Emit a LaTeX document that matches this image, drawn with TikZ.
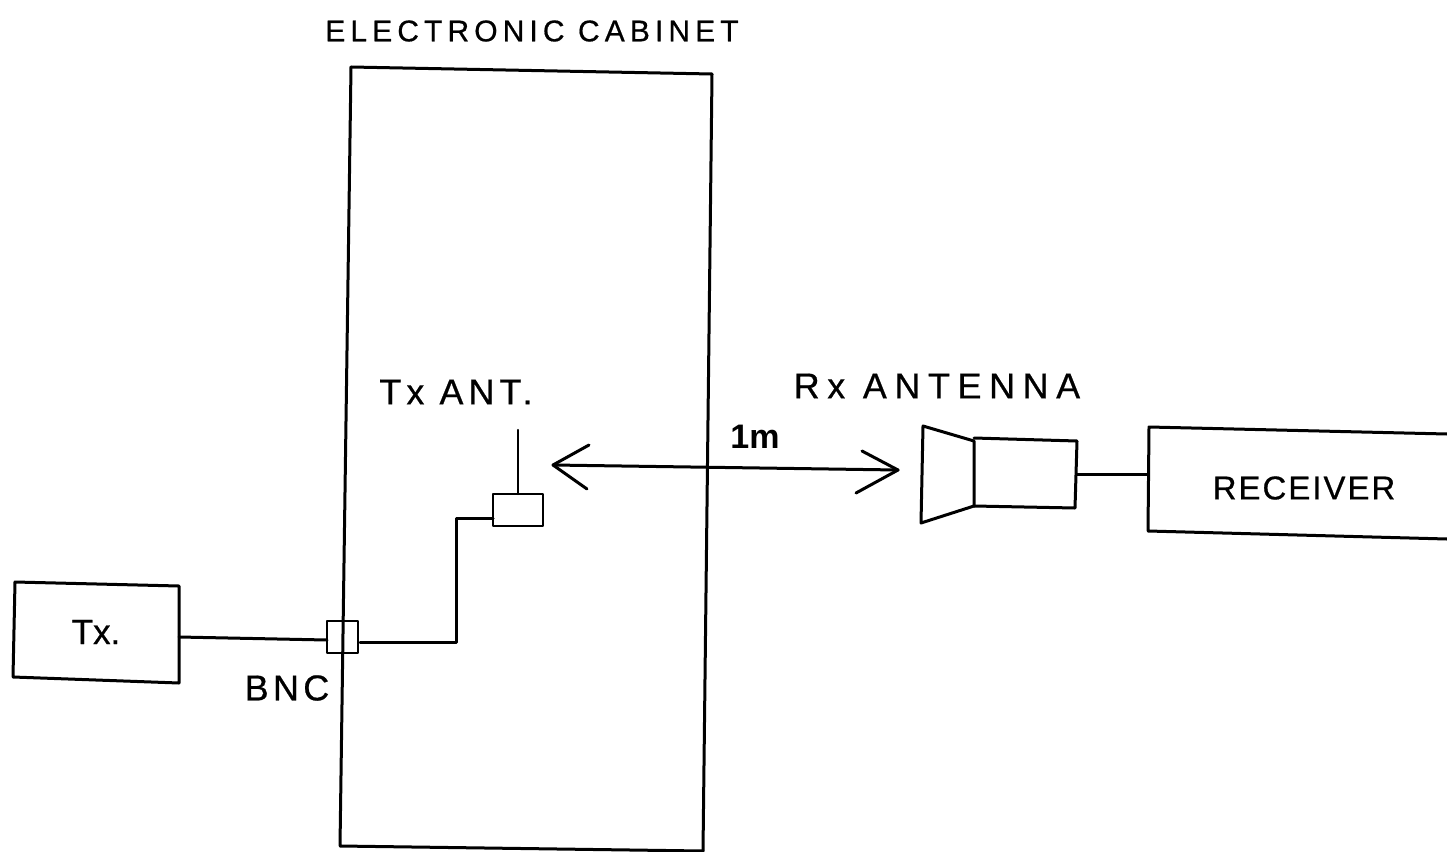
\documentclass[tikz,border=0pt]{standalone}
\usepackage{fontspec}
\setmainfont{Liberation Sans}
\begin{document}
\begin{tikzpicture}[x=1pt,y=-1pt,line join=round,line cap=round,
  ln/.style={line width=3pt,black},
  thin ln/.style={line width=2.4pt,black},
  lbl/.style={inner sep=0pt,text=black}]
\newcommand{\lf}[2]{\fontsize{#1}{#1}\selectfont\addfontfeature{LetterSpace=#2,FakeBold=0.6}}
\useasboundingbox (0,0) rectangle (1447,851);
\fill[white] (0,0) rectangle (1447,851);
% cabinet
\draw[ln] (351,67) -- (712,74) -- (703,851);
\draw[ln] (351,67) -- (340,846) -- (703,851);
\node[lbl] (cab) at (532,31) {\lf{30}{17}ELECTRONIC CABINET};
% Tx
\draw[ln] (15,582) -- (179,586) -- (179,683) -- (13,677) -- cycle;
\node[lbl] (tx) at (96,632) {\lf{35}{0}Tx.};
\coordinate (txr) at (179,637);
% BNC
\draw[thin ln] (327,621) rectangle (358,653);
\coordinate (bncl) at (327,640);
\coordinate (bncr) at (360,642);
\draw[ln] (txr) -- (bncl);
\node[lbl] (bnc) at (287,688) {\lf{36}{12}BNC};
% Tx antenna
\draw[thin ln] (493,494) rectangle (543,526);
\coordinate (boxl) at (493,518);
\coordinate (boxt) at (518,494);
\coordinate (stem) at (518,430);
\draw[ln] (bncr) -- (456,642) -- (456,518) -- (boxl);
\draw[thin ln] (stem) -- (boxt);
\node[lbl] (txant) at (456,392) {\lf{36}{14}Tx ANT.};
% arrow
\coordinate (a1) at (553,465);
\coordinate (a2) at (898,470);
\draw[ln] (a1) -- (a2);
\draw[ln] (589,445) -- (a1) -- (587,489);
\draw[ln] (862,451) -- (a2) -- (856,493);
\node[lbl] (m) at (755,437) {\fontsize{34}{34}\selectfont\bfseries 1m};
% horn
\draw[ln] (923,426) -- (974,441) -- (974,506) -- (921,523) -- cycle;
\draw[ln] (974,438) -- (1077,441) -- (1075,508) -- (974,506);
\coordinate (hornr) at (1077,474);
\coordinate (recl) at (1148,474);
\draw[ln] (hornr) -- (recl);
\node[lbl] (rx) at (937,386) {\lf{36}{21}Rx ANTENNA};
% receiver
\draw[ln] (1447,434) -- (1149,427) -- (1148,531) -- (1447,539);
\node[lbl] (rec) at (1304,488) {\lf{33}{6}RECEIVER};
\end{tikzpicture}
\end{document}
